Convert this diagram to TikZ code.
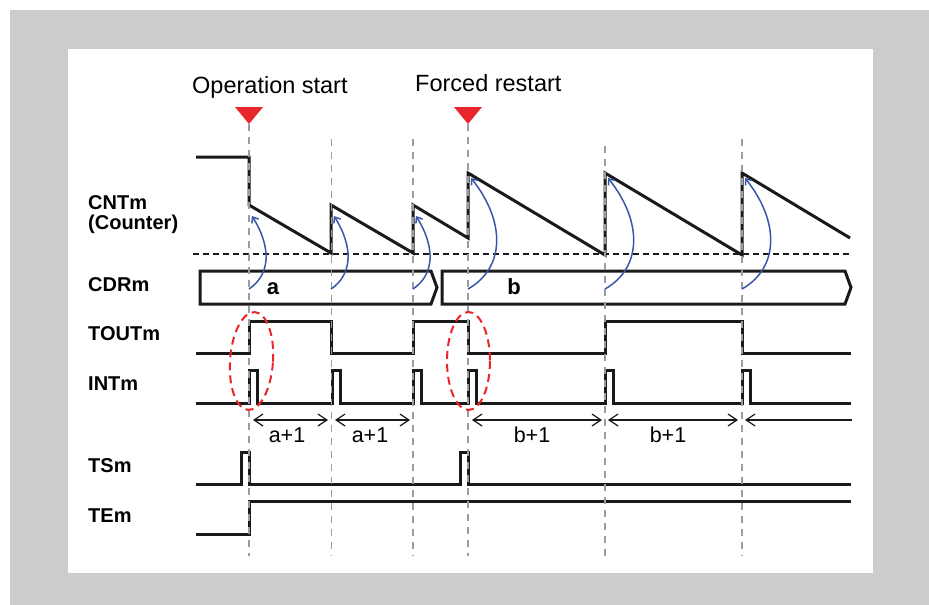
\documentclass[tikz,border=0pt]{standalone}
\usepackage{fontspec}
\setmainfont{Liberation Sans}
\usetikzlibrary{arrows.meta,calc}
\definecolor{bggray}{HTML}{CCCCCC}
\definecolor{sig}{HTML}{1A1A1A}
\definecolor{guidegray}{HTML}{959DA6}
\definecolor{bluearr}{HTML}{3A56A8}
\definecolor{redmark}{HTML}{E8262B}
\begin{document}
\begin{tikzpicture}[x=1pt,y=-1pt,
  wave/.style={draw=sig,line width=3pt,line join=miter},
  guide/.style={draw=guidegray,line width=1.8pt,dash pattern=on 7pt off 6pt},
  zeroline/.style={draw=sig,line width=1.4pt,dash pattern=on 6pt off 4pt},
  siglabel/.style={font=\fontsize{20}{20}\selectfont\bfseries,anchor=base west,inner sep=0pt},
  title/.style={font=\fontsize{23.5}{24}\selectfont,anchor=base west,inner sep=0pt},
  buslabel/.style={font=\fontsize{22}{22}\selectfont\bfseries,anchor=base,inner sep=0pt},
  spanlabel/.style={font=\fontsize{21.5}{22}\selectfont,anchor=base,inner sep=0pt},
  reload/.style={draw=bluearr,line width=1.5pt,-{Straight Barb[length=5pt,width=8pt]}},
  span/.style={draw=sig,line width=1.2pt,{Straight Barb[length=9pt,width=12pt]}-{Straight Barb[length=9pt,width=12pt]}},
  spanleft/.style={draw=sig,line width=1.2pt,{Straight Barb[length=9pt,width=12pt]}-},
  marker/.style={fill=redmark,draw=none},
  redell/.style={draw=redmark,line width=2pt,dash pattern=on 8pt off 5pt}
]
\useasboundingbox (0,0) rectangle (929,605);
\fill[bggray] (10,10) rectangle (929,605);
\fill[white] (68,49) rectangle (873,573);

% titles and markers
\node[title] (opstart) at (192,93) {Operation start};
\node[title] (forced) at (415,91) {Forced restart};
\fill[marker] (235,107) -- (263,107) -- (249,124) -- cycle;
\fill[marker] (454,107) -- (482,107) -- (468,124) -- cycle;

% signal labels
\node[siglabel] (lcnt) at (88,209) {CNTm};
\node[siglabel] (lcnt2) at (88,229) {(Counter)};
\node[siglabel] (lcdr) at (88,291) {CDRm};
\node[siglabel] (ltout) at (88,340) {TOUTm};
\node[siglabel] (lint) at (88,390) {INTm};
\node[siglabel] (lts) at (88,472) {TSm};
\node[siglabel] (lte) at (88,522) {TEm};

% zero line of counter
\draw[zeroline] (193,254) -- (851,254);

% counter
\draw[wave] (196,157) -- (249,157) -- (249,205) -- (331,253) -- (331,205)
  -- (413,253) -- (413,205) -- (468,238) -- (468,173) -- (605,255) -- (605,173)
  -- (742,255) -- (742,173) -- (850,238);

% CDR bus
\draw[wave] (200,271) -- (431,271) -- (437,287.5) -- (431,304) -- (200,304) -- cycle;
\draw[wave] (442,271) -- (845,271) -- (851,287.5) -- (845,304) -- (442,304) -- cycle;
\node[buslabel] (busa) at (273,294) {a};
\node[buslabel] (busb) at (514,294) {b};

% TOUT
\draw[wave] (196,353) -- (249,353) -- (249,321) -- (331,321) -- (331,353)
  -- (413,353) -- (413,321) -- (468,321) -- (468,353) -- (605,353) -- (605,321)
  -- (742,321) -- (742,353) -- (851,353);

% INT
\draw[wave] (196,403) -- (249,403) -- (249,370) -- (257,370) -- (257,403)
  -- (332,403) -- (332,370) -- (340,370) -- (340,403)
  -- (413,403) -- (413,370) -- (421,370) -- (421,403)
  -- (468,403) -- (468,370) -- (476,370) -- (476,403)
  -- (605,403) -- (605,370) -- (613,370) -- (613,403)
  -- (742,403) -- (742,370) -- (750,370) -- (750,403) -- (851,403);

% TS
\draw[wave] (196,484) -- (241,484) -- (241,452) -- (249,452) -- (249,484)
  -- (460,484) -- (460,452) -- (468,452) -- (468,484) -- (851,484);

% TE
\draw[wave] (196,534) -- (249,534) -- (249,501) -- (851,501);

% guide lines
\draw[guide] (249,124) -- (249,556);
\draw[guide] (331.5,139) -- (331.5,556);
\draw[guide] (413,139) -- (413,556);
\draw[guide] (468,124) -- (468,556);
\draw[guide] (605,146) -- (605,556);
\draw[guide] (742,139) -- (742,556);

% red ellipses
\draw[redell] (251.5,361) ellipse [x radius=21.5,y radius=49,rotate=-4];
\draw[redell] (468.5,361) ellipse [x radius=21.5,y radius=49];

% reload arrows
\foreach \x [count=\i] in {249,331,413} {
  \coordinate (sa\i) at (\x,289);
  \coordinate (ea\i) at (\x+3,216);
  \draw[reload] (sa\i) .. controls ($(sa\i)+(21,-14)$) and ($(sa\i)+(23,-41)$) .. (ea\i);
}
\foreach \x [count=\i] in {468,605,742} {
  \coordinate (sb\i) at (\x,289);
  \coordinate (eb\i) at (\x+3,178);
  \draw[reload] (sb\i) .. controls ($(sb\i)+(37,-21)$) and ($(sb\i)+(38,-67)$) .. (eb\i);
}

% period spans
\coordinate (p1l) at (253,420); \coordinate (p1r) at (328,420);
\coordinate (p2l) at (335,420); \coordinate (p2r) at (410,420);
\coordinate (p3l) at (472,420); \coordinate (p3r) at (602,420);
\coordinate (p4l) at (608,420); \coordinate (p4r) at (738,420);
\coordinate (p5l) at (745,420); \coordinate (p5r) at (852,420);
\draw[span] (p1l) -- (p1r);
\draw[span] (p2l) -- (p2r);
\draw[span] (p3l) -- (p3r);
\draw[span] (p4l) -- (p4r);
\draw[spanleft] (p5l) -- (p5r);
\node[spanlabel] (s1) at (287,442) {a+1};
\node[spanlabel] (s2) at (370,442) {a+1};
\node[spanlabel] (s3) at (532,442) {b+1};
\node[spanlabel] (s4) at (668,442) {b+1};
\end{tikzpicture}
\end{document}
